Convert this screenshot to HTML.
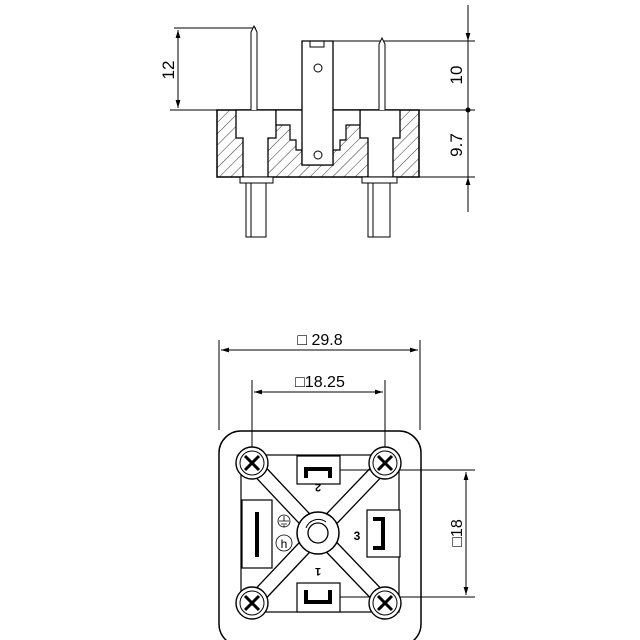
<!DOCTYPE html>
<html><head><style>body{margin:0;background:#fff}svg{display:block}text{font-family:"Liberation Sans",sans-serif;fill:#000}</style></head><body>
<svg width="640" height="640" viewBox="0 0 640 640" xmlns="http://www.w3.org/2000/svg">
<defs>
<pattern id="h" width="8" height="8" patternUnits="userSpaceOnUse" patternTransform="rotate(45)"><line x1="0" y1="0" x2="0" y2="8" stroke="#000" stroke-width="0.8"/></pattern>
<marker id="a" viewBox="0 0 10 10" refX="10" refY="5" markerWidth="8" markerHeight="12" orient="auto-start-reverse" markerUnits="userSpaceOnUse"><path d="M0,2 L10,5 L0,8z" fill="#000"/></marker>
</defs>
<g stroke="#000" fill="none" stroke-width="1">
<line x1="174" y1="28" x2="256" y2="28"/>
<line x1="170" y1="110" x2="217" y2="110"/>
<line x1="178" y1="30" x2="178" y2="108" marker-start="url(#a)" marker-end="url(#a)"/>
<line x1="468" y1="5" x2="468" y2="212"/>
<line x1="333" y1="41" x2="475" y2="41"/>
<line x1="419" y1="110" x2="475" y2="110"/>
<line x1="419" y1="177" x2="475" y2="177"/>
<line x1="468" y1="15" x2="468" y2="41" marker-end="url(#a)"/>
<line x1="468" y1="200" x2="468" y2="177" marker-end="url(#a)"/>
<circle cx="468" cy="110" r="2" fill="#000"/>
<rect x="217" y="110" width="202" height="67" fill="url(#h)" stroke-width="1.5"/>
<path d="M236,110 V138 H243 V177 H268 V138 H276 V110Z" fill="#fff" stroke-width="1.3"/>
<path d="M360,110 V138 H368 V177 H393 V138 H400 V110Z" fill="#fff" stroke-width="1.3"/>
<path d="M276,110 V125 H290 V140 H296 V150 H302 V165 H333 V150 H340 V140 H346 V125 H360 V110Z" fill="#fff" stroke-width="1.2"/>
<path d="M302,41 H333 V165 H302Z" fill="#fff" stroke-width="1.3"/>
<rect x="310" y="41" width="14" height="6"/>
<circle cx="318" cy="68" r="4"/><circle cx="318" cy="155" r="4"/>
<path d="M251,110 V32 L254,26 L257,32 V110" fill="#fff"/>
<path d="M379,110 V44 L382,38 L385,44 V110" fill="#fff"/>
<rect x="240" y="177" width="33" height="6" fill="#fff"/>
<rect x="246" y="183" width="20" height="54" fill="#fff"/>
<line x1="251" y1="183" x2="251" y2="237"/>
<rect x="362" y="177" width="35" height="6" fill="#fff"/>
<rect x="368" y="183" width="22" height="54" fill="#fff"/>
<line x1="373" y1="183" x2="373" y2="237"/>
<line x1="219" y1="340" x2="219" y2="430"/><line x1="420" y1="340" x2="420" y2="430"/>
<line x1="221" y1="350" x2="418" y2="350" marker-start="url(#a)" marker-end="url(#a)"/>
<line x1="252" y1="380" x2="252" y2="463"/><line x1="385" y1="380" x2="385" y2="463"/>
<line x1="254" y1="392" x2="383" y2="392" marker-start="url(#a)" marker-end="url(#a)"/>
<line x1="330" y1="470" x2="475" y2="470"/><line x1="340" y1="597" x2="475" y2="597"/>
<line x1="466" y1="472" x2="466" y2="595" marker-start="url(#a)" marker-end="url(#a)"/>
<rect x="219" y="431" width="202" height="215" rx="22" stroke-width="1.5"/>
<rect x="241" y="455" width="158" height="157" stroke-width="1.2"/>
<g stroke-width="1.3">
<path d="M257,458 L323,528 M247,468 L313,538"/>
<path d="M380,458 L313,528 M390,468 L323,538"/>
<path d="M247,598 L313,528 M257,608 L323,538"/>
<path d="M390,598 L323,528 M380,608 L313,538"/>
</g>
<rect x="297" y="456" width="43" height="28" fill="#fff" stroke-width="1.2"/>
<rect x="297" y="583" width="43" height="29" fill="#fff" stroke-width="1.2"/>
<rect x="242" y="500" width="30" height="68" fill="#fff" stroke-width="1.2"/>
<rect x="367" y="510" width="33" height="47" fill="#fff" stroke-width="1.2"/>
<circle cx="318" cy="533" r="21" fill="#fff" stroke-width="1.5"/>
<circle cx="318" cy="533" r="10" stroke-width="1.3"/>
<path d="M306,528 A13,13 0 0 1 326,522" />
<g fill="#fff" stroke-width="1.4">
<circle cx="252" cy="463" r="16"/><circle cx="385" cy="463" r="16"/><circle cx="252" cy="603" r="16"/><circle cx="385" cy="603" r="16"/>
</g>
<g stroke-width="1">
<circle cx="252" cy="463" r="12"/><circle cx="385" cy="463" r="12"/><circle cx="252" cy="603" r="12"/><circle cx="385" cy="603" r="12"/>
</g>
<g stroke-width="3">
<path d="M245,456 L259,470 M259,456 L245,470"/>
<path d="M378,456 L392,470 M392,456 L378,470"/>
<path d="M245,596 L259,610 M259,596 L245,610"/>
<path d="M378,596 L392,610 M392,596 L378,610"/>
</g>
<g stroke-width="4">
<path d="M306,478 V469 H330 V478"/>
<path d="M306,590 V602 H330 V590"/>
<path d="M257,512 V557"/>
<path d="M373,519 H383 V548 H373"/>
</g>
<circle cx="284" cy="521" r="6" stroke-width="0.8"/>
<path d="M284,516 V521 M279,521 H289 M281,524 H287 M283,526 H285" stroke-width="0.8"/>
<circle cx="284" cy="543" r="8" stroke-width="0.8"/>
</g>
<text x="174" y="70" font-size="17" text-anchor="middle" transform="rotate(-90 174 70)">12</text>
<text x="462" y="75" font-size="17" text-anchor="middle" transform="rotate(-90 462 75)">10</text>
<text x="462" y="145" font-size="17" text-anchor="middle" transform="rotate(-90 462 145)">9.7</text>
<text x="320" y="345" font-size="16" text-anchor="middle">□ 29.8</text>
<text x="320" y="387" font-size="16" text-anchor="middle">□18.25</text>
<text x="462" y="533" font-size="16" text-anchor="middle" transform="rotate(-90 462 533)">□18</text>
<text x="318" y="492" font-size="11" font-weight="bold" text-anchor="middle" transform="rotate(180 318 492) translate(0,8)">2</text>
<text x="318" y="576" font-size="11" font-weight="bold" text-anchor="middle" transform="rotate(180 318 572)">1</text>
<text x="357" y="540" font-size="12" font-weight="bold" text-anchor="middle">3</text>
<text x="284" y="548" font-size="12" text-anchor="middle">h</text>
</svg>
</body></html>
